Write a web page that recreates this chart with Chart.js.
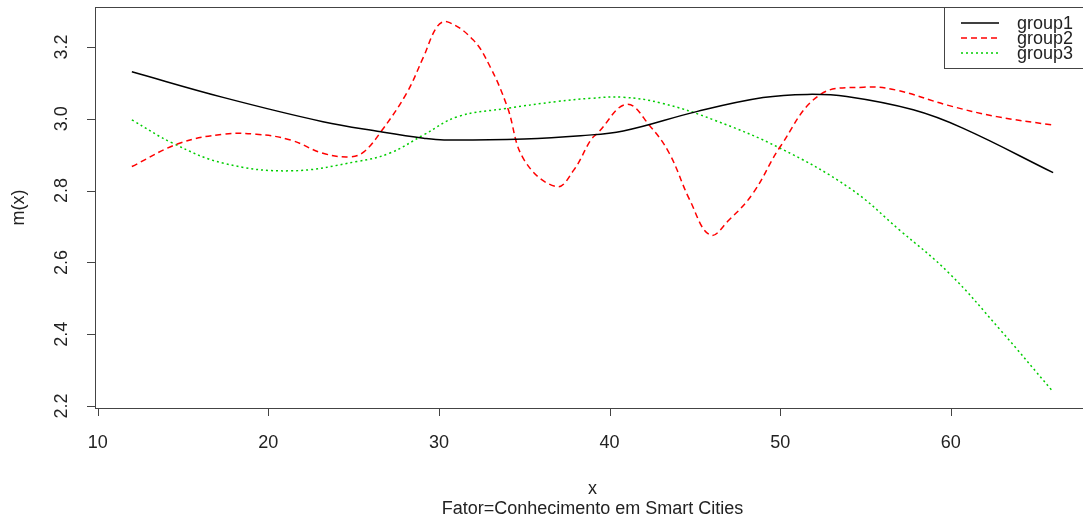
<!DOCTYPE html>
<html>
<head>
<meta charset="utf-8">
<script src="https://cdn.jsdelivr.net/npm/chart.js@4"></script>
<style>
  html, body { margin: 0; padding: 0; background: #fff; overflow: hidden; }
  canvas { display: block; }
</style>
</head>
<body>
<canvas id="chart" width="1100" height="525"></canvas>
<script>
// curve samples (x, m(x))
const group1X = [12, 17.4, 23.2, 26.6, 29.1, 30.3, 35.0, 38.3, 40.8, 45.1, 49.0, 51.6, 53.9, 57.8, 60.7, 66.0];
const group1Y = [3.131, 3.059, 2.992, 2.964, 2.946, 2.941, 2.944, 2.953, 2.966, 3.020, 3.059, 3.068, 3.062, 3.025, 2.974, 2.850];

const group2X = [12, 14.8, 17.4, 19.3, 21.3, 23.2, 24.8, 25.6, 26.6, 28.1, 29.1, 29.9, 30.5, 32.0, 33.0, 34.0, 35.0, 36.9, 37.9, 38.9, 39.3, 41.0, 42.4, 43.5, 44.7, 45.9, 47.0, 48.4, 50.0, 52.3, 54.9, 56.8, 59.8, 62.7, 65.9];
const group2Y = [2.867, 2.932, 2.957, 2.957, 2.941, 2.904, 2.894, 2.908, 2.964, 3.071, 3.173, 3.257, 3.270, 3.220, 3.145, 3.034, 2.885, 2.811, 2.857, 2.941, 2.960, 3.040, 2.978, 2.904, 2.774, 2.676, 2.718, 2.792, 2.922, 3.066, 3.088, 3.080, 3.038, 3.006, 2.983];

const group3X = [12, 14.4, 17.4, 21.3, 25.2, 27.1, 29.1, 31.1, 34.0, 36.9, 38.9, 40.8, 43.1, 46.1, 50.0, 54.1, 57.0, 59.9, 62.9, 65.9];
const group3Y = [2.997, 2.932, 2.876, 2.855, 2.881, 2.904, 2.955, 3.006, 3.029, 3.048, 3.057, 3.060, 3.043, 2.997, 2.918, 2.806, 2.690, 2.570, 2.412, 2.245];

const seriesNames = ['group1', 'group2', 'group3'];
const xTicks = [10, 20, 30, 40, 50, 60];
const yTicks = [2.2, 2.4, 2.6, 2.8, 3.0, 3.2];
const xTitle = 'x';
const subTitle = 'Fator=Conhecimento em Smart Cities';
const yTitle = 'm(x)';

const colors = ['#000000', '#ff0000', '#00cd00'];
const dashes = [[], [6, 4], [2, 3]];
const FONT = '18px "Liberation Sans", Arial, sans-serif';
const AXIS = '#444';

function toPoints(xs, ys) {
    return xs.map((x, i) => ({ x: x, y: ys[i] }));
}

// R style box, ticks, labels and legend
const rAxes = {
    id: 'rAxes',
    afterDraw(chart) {
        const ctx = chart.ctx;
        const a = chart.chartArea;
        const xs = chart.scales.x, ys = chart.scales.y;
        ctx.save();
        ctx.strokeStyle = AXIS;
        ctx.lineWidth = 1;
        ctx.strokeRect(a.left + 0.5, a.top + 0.5, a.right - a.left, a.bottom - a.top);

        ctx.fillStyle = '#222';
        ctx.font = FONT;

        // x axis
        ctx.textAlign = 'center';
        ctx.textBaseline = 'middle';
        ctx.beginPath();
        const x0 = Math.round(xs.getPixelForValue(xTicks[0])) + 0.5;
        const x1 = Math.round(xs.getPixelForValue(xTicks[xTicks.length - 1])) + 0.5;
        ctx.moveTo(x0, a.bottom + 0.5);
        ctx.lineTo(x1, a.bottom + 0.5);
        xTicks.forEach(v => {
            const px = Math.round(xs.getPixelForValue(v)) + 0.5;
            ctx.moveTo(px, a.bottom);
            ctx.lineTo(px, a.bottom + 8);
        });
        ctx.stroke();
        xTicks.forEach(v => ctx.fillText(String(v), xs.getPixelForValue(v), a.bottom + 35));

        // y axis
        ctx.beginPath();
        const y0 = Math.round(ys.getPixelForValue(yTicks[0])) + 0.5;
        const y1 = Math.round(ys.getPixelForValue(yTicks[yTicks.length - 1])) + 0.5;
        ctx.moveTo(a.left + 0.5, y0);
        ctx.lineTo(a.left + 0.5, y1);
        yTicks.forEach(v => {
            const py = Math.round(ys.getPixelForValue(v)) + 0.5;
            ctx.moveTo(a.left, py);
            ctx.lineTo(a.left - 8, py);
        });
        ctx.stroke();
        yTicks.forEach(v => {
            ctx.save();
            ctx.translate(62, ys.getPixelForValue(v));
            ctx.rotate(-Math.PI / 2);
            ctx.fillText(v.toFixed(1), 0, 0);
            ctx.restore();
        });

        // titles
        const cx = (a.left + a.right) / 2;
        ctx.fillText(xTitle, cx, 489);
        ctx.fillText(subTitle, cx, 509);
        ctx.save();
        ctx.translate(19, (a.top + a.bottom) / 2);
        ctx.rotate(-Math.PI / 2);
        ctx.fillText(yTitle, 0, 0);
        ctx.restore();

        // legend
        const lx = 944, ly = a.top, lw = 150, lh = 61;
        ctx.fillStyle = '#fff';
        ctx.fillRect(lx, ly, lw, lh);
        ctx.strokeStyle = AXIS;
        ctx.strokeRect(lx + 0.5, ly + 0.5, lw, lh);
        ctx.textAlign = 'left';
        seriesNames.forEach((name, i) => {
            const yy = ly + 16 + i * 15;
            ctx.strokeStyle = colors[i];
            ctx.lineWidth = 1.5;
            ctx.setLineDash(dashes[i]);
            ctx.beginPath();
            ctx.moveTo(961, yy);
            ctx.lineTo(999, yy);
            ctx.stroke();
            ctx.setLineDash([]);
            ctx.fillStyle = '#222';
            ctx.fillText(name, 1017, yy + 1);
        });
        ctx.restore();
    }
};

new Chart(document.getElementById('chart'), {
    type: 'line',
    data: {
        datasets: [
            { label: seriesNames[0], data: toPoints(group1X, group1Y) },
            { label: seriesNames[1], data: toPoints(group2X, group2Y) },
            { label: seriesNames[2], data: toPoints(group3X, group3Y) }
        ].map((d, i) => Object.assign(d, {
            borderColor: colors[i],
            borderWidth: 1.5,
            borderDash: dashes[i],
            pointRadius: 0,
            fill: false,
            tension: 0.4
        }))
    },
    options: {
        responsive: false,
        animation: false,
        layout: { padding: { left: 95, top: 7, right: 10, bottom: 117 } },
        plugins: { legend: { display: false }, tooltip: { enabled: false } },
        scales: {
            x: { type: 'linear', min: 9.84, max: 68.16, display: false },
            y: { min: 2.1944, max: 3.3114, display: false }
        }
    },
    plugins: [rAxes]
});
</script>
</body>
</html>
